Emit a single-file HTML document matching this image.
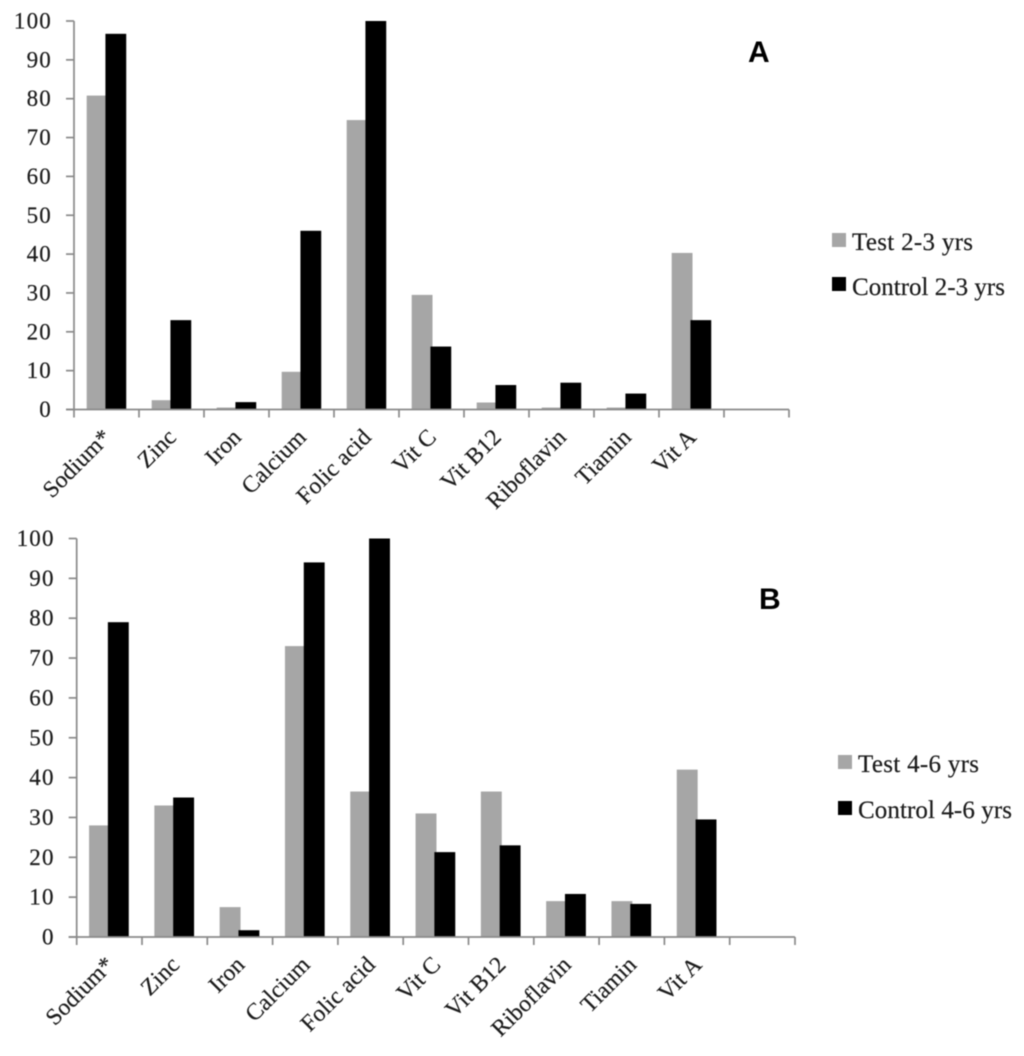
<!DOCTYPE html>
<html lang="en">
<head>
<meta charset="utf-8">
<title>Nutrient charts by age group</title>
<style>
  html, body { margin: 0; padding: 0; background: #fff; }
  body { width: 1024px; height: 1056px; overflow: hidden; }
  svg { display: block; filter: blur(0.55px); }
  .tick-label { font-family: "Liberation Serif", serif; font-size: 23px; fill: #1c1c1c; letter-spacing: 1.2px; stroke: #1c1c1c; stroke-width: 0.2px; }
  .cat-label { font-family: "Liberation Serif", serif; font-size: 23.5px; fill: #1c1c1c; letter-spacing: 0.1px; stroke: #1c1c1c; stroke-width: 0.2px; }
  .legend-label { font-family: "Liberation Serif", serif; font-size: 25px; fill: #1c1c1c; stroke: #1c1c1c; stroke-width: 0.2px; }
  .panel-letter { font-family: "Liberation Sans", sans-serif; font-size: 30px; font-weight: bold; fill: #000; }
</style>
</head>
<body>
<svg id="figure" width="1024" height="1056" viewBox="0 0 1024 1056" xmlns="http://www.w3.org/2000/svg">
  <rect width="1024" height="1056" fill="#fff"/>

  <text class="panel-letter" x="748" y="62">A</text>
  <text class="panel-letter" x="759" y="609">B</text>

  <g>
    <g>
      <rect x="832" y="233" width="14" height="14" fill="#a6a6a6"/>
      <text class="legend-label" x="852" y="250" textLength="121" lengthAdjust="spacing">Test 2-3 yrs</text>
    </g>
    <g>
      <rect x="832" y="277" width="14" height="14" fill="#000"/>
      <text class="legend-label" x="852" y="295" textLength="153" lengthAdjust="spacing">Control 2-3 yrs</text>
    </g>
  </g>

  <g>
    <g>
      <rect x="838" y="755" width="14" height="14" fill="#a6a6a6"/>
      <text class="legend-label" x="858" y="772" textLength="121" lengthAdjust="spacing">Test 4-6 yrs</text>
    </g>
    <g>
      <rect x="838" y="801" width="14" height="14" fill="#000"/>
      <text class="legend-label" x="858" y="818" textLength="154" lengthAdjust="spacing">Control 4-6 yrs</text>
    </g>
  </g>
</svg>

<script>
// Chart data
const categories = ["Sodium*", "Zinc", "Iron", "Calcium", "Folic acid", "Vit C", "Vit B12", "Riboflavin", "Tiamin", "Vit A"];
const yTicks = [0, 10, 20, 30, 40, 50, 60, 70, 80, 90, 100];
const testA = [80.8, 2.4, 0.5, 9.7, 74.5, 29.5, 1.8, 0.5, 0.5, 40.3];
const controlA = [96.7, 23, 1.9, 46, 100, 16.2, 6.3, 6.9, 4.1, 23];
const testB = [28, 33, 7.5, 73, 36.5, 31, 36.5, 9, 9, 42];
const controlB = [79, 35, 1.7, 94, 100, 21.3, 23, 10.8, 8.3, 29.5];

const SVG_NS = "http://www.w3.org/2000/svg";
const figure = document.getElementById("figure");

function makeScaleY(y0, y100) {
  return function (v) { return y0 + (y100 - y0) * v / 100; };
}
function makeSlotX(left, right, slots) {
  const step = (right - left) / slots;
  return function (i) { return left + step * i; };
}
function svgEl(tag, attrs, parent) {
  const el = document.createElementNS(SVG_NS, tag);
  for (const k in attrs) el.setAttribute(k, attrs[k]);
  parent.appendChild(el);
  return el;
}

function drawPanel(key, testValues, controlValues, left, right, y0, y100, barShift) {
  const slots = categories.length + 1;
  const y = makeScaleY(y0, y100);
  const x = makeSlotX(left, right, slots);
  const step = (right - left) / slots;

  const panel = svgEl("g", {}, figure);
  
  

  categories.forEach(function (cat, i) {
    const slug = cat.toLowerCase().replace(/[^a-z0-9]+/g, '-').replace(/-$/, '');
    const gx = x(i) + step * 0.2 + barShift;
    const gw = step * 0.32;
    const bx = x(i) + step * 0.488 + barShift;
    const bw = step * 0.32;

    const tv = testValues[i];
    const testBar = svgEl("rect", { x: gx, y: y(tv), width: gw, height: y0 - y(tv), fill: "#a6a6a6" }, panel);
    
    

    const cv = controlValues[i];
    const controlBar = svgEl("rect", { x: bx, y: y(cv), width: bw, height: y0 - y(cv), fill: "#000" }, panel);
    
    

    const cx = x(i) + step * 0.5 + 6;
    const cy = y0 + 29;
    const label = svgEl("text", { x: cx, y: cy, "text-anchor": "end", transform: "rotate(-45 " + cx + " " + cy + ")", "class": "cat-label" }, panel);
    
    
    label.textContent = cat;
  });

  const yAxis = svgEl("line", { x1: left, x2: left, y1: y100, y2: y0, stroke: "#8a8a8a", "stroke-width": 1.7 }, panel);
  
  

  const xAxis = svgEl("line", { x1: left - 8, x2: right, y1: y0, y2: y0, stroke: "#8a8a8a", "stroke-width": 1.7 }, panel);
  
  

  yTicks.forEach(function (t) {
    const mark = svgEl("line", { x1: left - 8, x2: left, y1: y(t), y2: y(t), stroke: "#8a8a8a", "stroke-width": 1.7 }, panel);
    
    

    const lab = svgEl("text", { x: left - 22, y: y(t) + 7.5, "text-anchor": "end", "class": "tick-label" }, panel);
    
    
    lab.textContent = t;
  });

  for (let i = 0; i <= slots; i++) {
    const mark = svgEl("line", { x1: x(i), x2: x(i), y1: y0, y2: y0 + 8, stroke: "#8a8a8a", "stroke-width": 1.7 }, panel);
    
    
  }
}

drawPanel("a", testA, controlA, 74, 789, 409.5, 21, -0.3);
drawPanel("b", testB, controlB, 76.7, 795, 937, 538.5, -0.7);
</script>
</body>
</html>
